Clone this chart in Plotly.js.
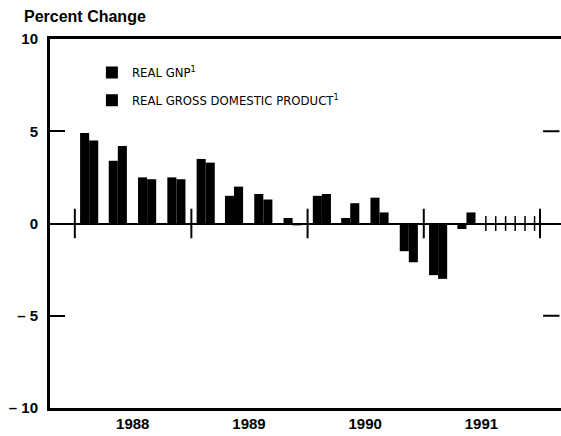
<!DOCTYPE html>
<html>
<head>
<meta charset="utf-8">
<script src="https://cdn.plot.ly/plotly-3.0.1.min.js"></script>
<style>html,body{margin:0;padding:0;background:#fff;}#chart{width:561px;height:436px;}</style>
</head>
<body>
<div id="chart"></div>
<script>
// Quarter (mid-quarter dates)
const quarters = [
  '1988-02-15','1988-05-15','1988-08-15','1988-11-15',
  '1989-02-15','1989-05-15','1989-08-15','1989-11-15',
  '1990-02-15','1990-05-15','1990-08-15','1990-11-15',
  '1991-02-15','1991-05-15'
];
// Real GNP, percent change (annual rate)
const realGNP = [4.9, 3.4, 2.5, 2.5, 3.5, 1.5, 1.6, 0.3, 1.5, 0.3, 1.4, -1.5, -2.8, -0.3];
// Real gross domestic product, percent change
const realGDP = [4.5, 4.2, 2.4, 2.4, 3.3, 2.0, 1.3, -0.1, 1.6, 1.1, 0.6, -2.1, -3.0, 0.6];
// Year tick labels
const years = ['1988', '1989', '1990', '1991'];
const yearCenters = ['1988-07-01', '1989-07-01', '1990-07-01', '1991-07-01'];
const yearBounds = ['1988-01-01', '1989-01-01', '1990-01-01', '1991-01-01', '1992-01-01'];
const monthTicks = ['1991-07-15', '1991-08-15', '1991-09-15', '1991-10-15', '1991-11-15', '1991-12-15'];
const yTickVals = [-10, -5, 0, 5, 10];
const yTickText = ['– 10', '– 5', '0', '5', '10'];

const narrow = '"DejaVu Sans Condensed", "Liberation Sans", Arial, sans-serif';
const sans = '"Liberation Sans", Arial, sans-serif';

const traces = [
  {type: 'bar', x: quarters, y: realGNP, name: 'REAL GNP<sup>1</sup>',
   marker: {color: '#000'}, legendgroup: 'a'},
  {type: 'bar', x: quarters, y: realGDP, name: 'REAL GROSS DOMESTIC PRODUCT<sup>1</sup>',
   marker: {color: '#000'}, legendgroup: 'b'}
];

const shapes = [];
yearBounds.forEach(d => shapes.push({type: 'line', xref: 'x', yref: 'y', x0: d, x1: d, y0: -0.8, y1: 0.8,
  line: {color: '#000', width: 2}}));
monthTicks.forEach(d => shapes.push({type: 'line', xref: 'x', yref: 'y', x0: d, x1: d, y0: -0.4, y1: 0.4,
  line: {color: '#000', width: 1.5}}));
[5, -5].forEach(v => shapes.push({type: 'line', xref: 'paper', yref: 'y', x0: 0.965, x1: 0.997, y0: v, y1: v,
  line: {color: '#000', width: 2}}));

const layout = {
  width: 561, height: 436,
  margin: {l: 50, r: 0, t: 39, b: 28},
  paper_bgcolor: '#fff', plot_bgcolor: '#fff',
  barmode: 'group', bargap: 0.36, bargroupgap: 0,
  showlegend: true,
  legend: {x: 0.082, y: 0.95, xanchor: 'left', yanchor: 'top', traceorder: 'grouped',
    tracegroupgap: 8, font: {family: narrow, size: 13, color: '#000'}, bgcolor: 'rgba(0,0,0,0)'},
  xaxis: {type: 'date', range: ['1987-10-15', '1992-03-07'], showline: true, mirror: true,
    linecolor: '#000', linewidth: 3, showgrid: false, zeroline: false, ticks: '',
    tickmode: 'array', tickvals: yearCenters, ticktext: years,
    tickfont: {family: sans, size: 15, color: '#000', weight: 'bold'}},
  yaxis: {range: [-10, 10], showline: true, linecolor: '#000', linewidth: 3,
    showgrid: false, zeroline: true, zerolinecolor: '#000', zerolinewidth: 2,
    ticks: 'inside', ticklen: 15, tickwidth: 2, tickcolor: '#000',
    tickmode: 'array', tickvals: yTickVals, ticktext: yTickText, ticklabelstandoff: 6,
    tickfont: {family: sans, size: 15, color: '#000', weight: 'bold'}},
  shapes: shapes,
  annotations: [{text: 'Percent Change', xref: 'paper', yref: 'paper', x: -0.055, y: 1.0, yshift: 23,
    xanchor: 'left', yanchor: 'middle', showarrow: false,
    font: {family: sans, size: 16, color: '#000', weight: 'bold'}}]
};

Plotly.newPlot('chart', traces, layout, {displayModeBar: false, staticPlot: true});
</script>
</body>
</html>
